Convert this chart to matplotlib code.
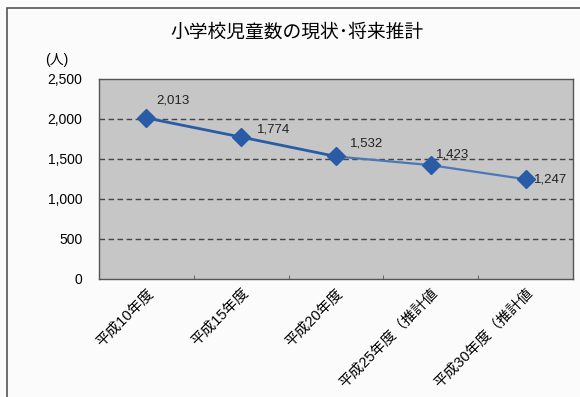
import matplotlib.pyplot as plt
import matplotlib.transforms as mtransforms
from matplotlib.patches import Rectangle

plt.rcParams['font.family'] = ['Liberation Sans', 'Noto Sans CJK JP']

# School-age population by fiscal year (persons)
years = ['平成10年度', '平成15年度', '平成20年度', '平成25年度（推計値', '平成30年度（推計値']
pupils = [2013, 1774, 1532, 1423, 1247]
label_offsets = [(10, 17), (16, 8), (14, 13), (5, 11), (8, 0)]
yticks = [0, 500, 1000, 1500, 2000, 2500]

fig = plt.figure(figsize=(5.8, 3.97), dpi=100)
fig.patch.set_facecolor('#fbfbfb')

# outer chart frame
fig.patches.append(Rectangle((7 / 580, -0.05), 1.0, 1 - 8 / 397 + 0.05,
                             transform=fig.transFigure, fill=False,
                             edgecolor='#555555', linewidth=1.2))

ax = fig.add_axes([99 / 580, 1 - 279 / 397, 474 / 580, 200 / 397])
ax.set_facecolor('#c6c6c6')

x = list(range(len(years)))
blue = '#2a5ca6'
# actual values: solid line; projections: thinner line
ax.plot(x[:3], pupils[:3], color=blue, linewidth=2.0, zorder=3)
ax.plot(x[2:], pupils[2:], color='#4a78b8', linewidth=1.6, zorder=3)
ax.plot(x, pupils, linestyle='none', marker='D', markersize=9,
        color=blue, zorder=4)

for xi, v, (dx, dy) in zip(x, pupils, label_offsets):
    ax.annotate(f'{v:,}', (xi, v), xytext=(dx, dy), textcoords='offset pixels',
                ha='left', va='center', fontsize=9.5, color='#222222')

ax.set_xlim(-0.5, len(years) - 0.5)
ax.set_ylim(0, 2500)
ax.set_yticks(yticks)
ax.set_yticklabels([f'{t:,}' for t in yticks], fontsize=10)
for t in yticks[1:-1]:
    ax.axhline(t, color='#444444', linestyle=(0, (4, 2.5)), linewidth=1.0, zorder=1)

ax.set_xticks(x)
ax.set_xticklabels(years, rotation=45, ha='right', rotation_mode='anchor', fontsize=10.5)
# shift the slanted category labels a little to the left
shift = mtransforms.ScaledTranslation(-14 / 100, 0, fig.dpi_scale_trans)
for lbl in ax.get_xticklabels():
    lbl.set_transform(lbl.get_transform() + shift)
ax.set_xticks([i + 0.5 for i in x[:-1]], minor=True)
ax.tick_params(axis='x', which='major', length=0, pad=5)
ax.tick_params(axis='x', which='minor', length=3, direction='in', color='#555555')
ax.tick_params(axis='y', length=0, pad=12)

for side in ['left', 'bottom', 'top', 'right']:
    ax.spines[side].set_color('#555555')
    ax.spines[side].set_linewidth(1.0)

fig.text(297 / 580, 1 - 33 / 397, '小学校児童数の現状･将来推計', ha='center', va='center',
         fontsize=13.5)
fig.text(57 / 580, 1 - 60 / 397, '(人)', ha='center', va='center', fontsize=10)

fig.savefig('out.png', dpi=100, facecolor=fig.get_facecolor())
